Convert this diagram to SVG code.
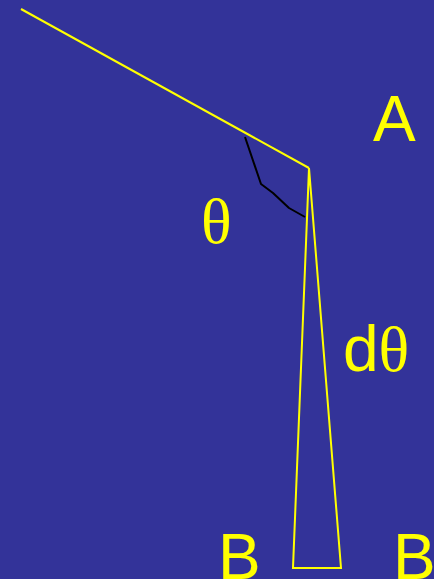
<svg xmlns="http://www.w3.org/2000/svg" width="434" height="579" viewBox="0 0 434 579">
<style>
.ln{fill:none;stroke:#ffff00;stroke-width:2;stroke-linejoin:miter}
.arc{fill:none;stroke:#000000;stroke-width:2;stroke-linejoin:round}
.lbl{fill:#ffff00;font-family:"Liberation Sans",Arial,sans-serif;font-size:64px}
.gr{font-family:"Liberation Serif","Times New Roman",serif}
</style>
<rect width="434" height="579" fill="#333399"/>
<g id="connectors">
<polyline class="ln" points="21,9 309,168"/>
<polygon class="ln" points="309,168 293,568 341,568"/>
<polyline class="arc" points="245,137 261,184 273,193 289,208 305,217"/>
</g>
<g id="A"><text class="lbl" x="373" y="141">A</text></g>
<g id="theta"><text class="lbl gr" x="201" y="243">θ</text></g>
<g id="dtheta"><text class="lbl" x="343" y="371">d<tspan class="gr">θ</tspan></text></g>
<g id="B1"><text class="lbl" x="218" y="579">B</text></g>
<g id="B2"><text class="lbl" x="393" y="579">B</text></g>
</svg>
